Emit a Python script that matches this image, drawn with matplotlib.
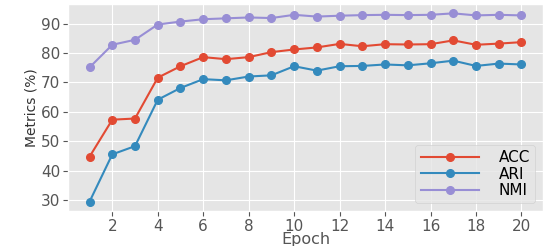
import matplotlib
matplotlib.use('Agg')
import matplotlib.pyplot as plt

plt.style.use('ggplot')

epochs = list(range(1, 21))
acc = [44.7, 57.3, 57.7, 71.6, 75.5, 78.6, 77.9, 78.6, 80.3, 81.2,
       81.9, 83.1, 82.3, 83.0, 82.9, 83.0, 84.3, 82.8, 83.2, 83.7]
ari = [29.4, 45.5, 48.3, 64.1, 68.1, 71.1, 70.7, 72.0, 72.4, 75.5,
       74.0, 75.5, 75.6, 76.1, 75.8, 76.5, 77.4, 75.6, 76.4, 76.1]
nmi = [75.1, 82.8, 84.5, 89.7, 90.7, 91.5, 91.8, 92.1, 91.9, 93.0,
       92.4, 92.7, 92.9, 93.0, 92.9, 93.0, 93.5, 92.8, 93.0, 92.8]
xticks = [2, 4, 6, 8, 10, 12, 14, 16, 18, 20]
yticks = [30, 40, 50, 60, 70, 80, 90]

fig = plt.figure(figsize=(5.48, 2.46), dpi=100)
ax = fig.add_axes([0.124, 0.142, 0.867, 0.842])

ax.plot(epochs, acc, '-o', color='#E24A33', lw=1.5, ms=5.5, label='ACC')
ax.plot(epochs, ari, '-o', color='#348ABD', lw=1.5, ms=5.5, label='ARI')
ax.plot(epochs, nmi, '-o', color='#988ED5', lw=1.5, ms=5.5, label='NMI')

ax.set_xticks(xticks)
ax.set_yticks(yticks)
ax.tick_params(axis='both', labelsize=11, colors='#555555', pad=2)
ax.set_xlabel('Epoch', fontsize=11.5, color='#555555', labelpad=-1)
ax.set_ylabel('Metrics (%)', fontsize=10, color='#333333', labelpad=2)
leg = ax.legend(loc='lower right', fontsize=11, handlelength=3.8,
                labelspacing=0.1, borderpad=0.35, handletextpad=1.3,
                borderaxespad=0.5)
for t in leg.get_texts():
    t.set_color('black')

fig.savefig('out.png', dpi=100)
